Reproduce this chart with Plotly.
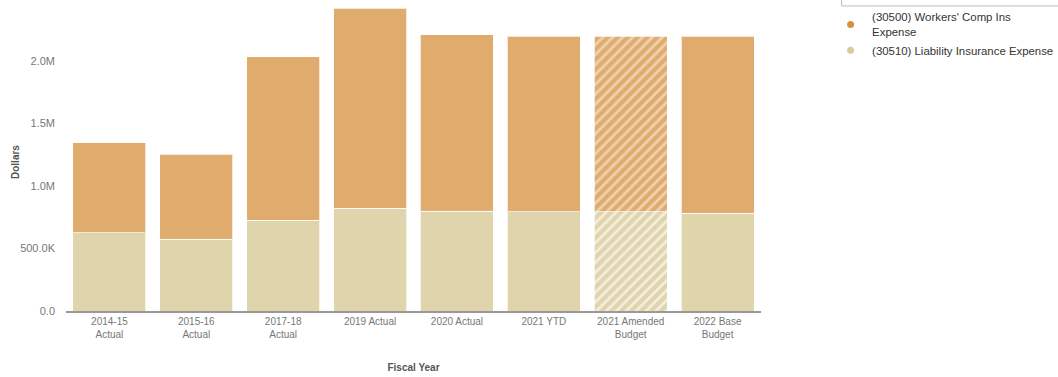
import plotly.graph_objects as go

# Fiscal-year categories and expense amounts (dollars)
categories = [
    "2014-15<br>Actual", "2015-16<br>Actual", "2017-18<br>Actual", "2019 Actual",
    "2020 Actual", "2021 YTD", "2021 Amended<br>Budget", "2022 Base<br>Budget",
]
liability_insurance = [626000, 573000, 728000, 821000, 800000, 795000, 795000, 782000]
workers_comp = [720000, 683000, 1306000, 1600000, 1410000, 1405000, 1405000, 1418000]

# Budget columns are drawn hatched
hatch = ["", "", "", "", "", "", "/", ""]

y_tick_vals = [0, 500000, 1000000, 1500000, 2000000]
y_tick_text = ["0.0", "500.0K", "1.0M", "1.5M", "2.0M"]

series_names = ["(30500) Workers' Comp Ins<br>Expense", "(30510) Liability Insurance Expense"]
legend_colors = ["#D9913F", "#DCC995"]
bar_colors = ["#E0AC6E", "#E0D4AC"]

fig = go.Figure()

fig.add_trace(go.Bar(
    x=categories, y=liability_insurance, name=series_names[1], showlegend=False,
    marker=dict(color=bar_colors[1], line=dict(color="rgba(255,255,255,0.7)", width=1),
                pattern=dict(shape=hatch, fillmode="overlay", fgcolor="white",
                             fgopacity=0.6, size=7, solidity=0.4)),
    hoverinfo="skip",
))
fig.add_trace(go.Bar(
    x=categories, y=workers_comp, name=series_names[0], showlegend=False,
    marker=dict(color=bar_colors[0], line=dict(color="rgba(255,255,255,0.7)", width=1),
                pattern=dict(shape=hatch, fillmode="overlay", fgcolor="white",
                             fgopacity=0.45, size=7, solidity=0.4)),
    hoverinfo="skip",
))

# Legend entries shown as round dots
for name, col in zip(series_names, legend_colors):
    fig.add_trace(go.Scatter(
        x=[None], y=[None], mode="markers", name=name,
        marker=dict(symbol="circle", size=7, color=col),
    ))

fig.update_layout(
    width=1058, height=377,
    margin=dict(l=66, r=297, t=0, b=66, autoexpand=False),
    barmode="stack", bargap=0.16,
    plot_bgcolor="white", paper_bgcolor="white",
    font=dict(family="Liberation Sans, Arial, sans-serif", color="#666666", size=11),
    showlegend=True,
    legend=dict(
        x=1.098, y=0.99, xanchor="left", yanchor="top",
        font=dict(size=11.4, color="#333333"), traceorder="normal",
        bgcolor="rgba(0,0,0,0)", tracegroupgap=0, itemwidth=33,
    ),
    xaxis=dict(
        showline=True, linecolor="#999999", linewidth=2, ticks="",
        tickfont=dict(size=10, color="#777777"),
        title=dict(text="<b>Fiscal Year</b>", font=dict(size=10, color="#555555"), standoff=25),
        fixedrange=True,
    ),
    yaxis=dict(
        range=[0, 2488000], tickvals=y_tick_vals, ticktext=y_tick_text,
        showgrid=False, zeroline=False, showline=False, ticks="",
        ticklabelstandoff=10,
        tickfont=dict(size=11, color="#777777"),
        fixedrange=True,
    ),
    annotations=[dict(
        text="<b>Dollars</b>", xref="paper", yref="paper", x=-0.073, y=0.48,
        xanchor="center", yanchor="middle", textangle=-90, showarrow=False,
        font=dict(size=10, color="#555555"),
    )],
    shapes=[dict(
        type="rect", xref="paper", yref="paper",
        x0=1.116, x1=1.43, y0=0.981, y1=1.1,
        line=dict(color="#BBBBBB", width=1), fillcolor="rgba(0,0,0,0)",
    )],
)

fig.write_html("out.html")
